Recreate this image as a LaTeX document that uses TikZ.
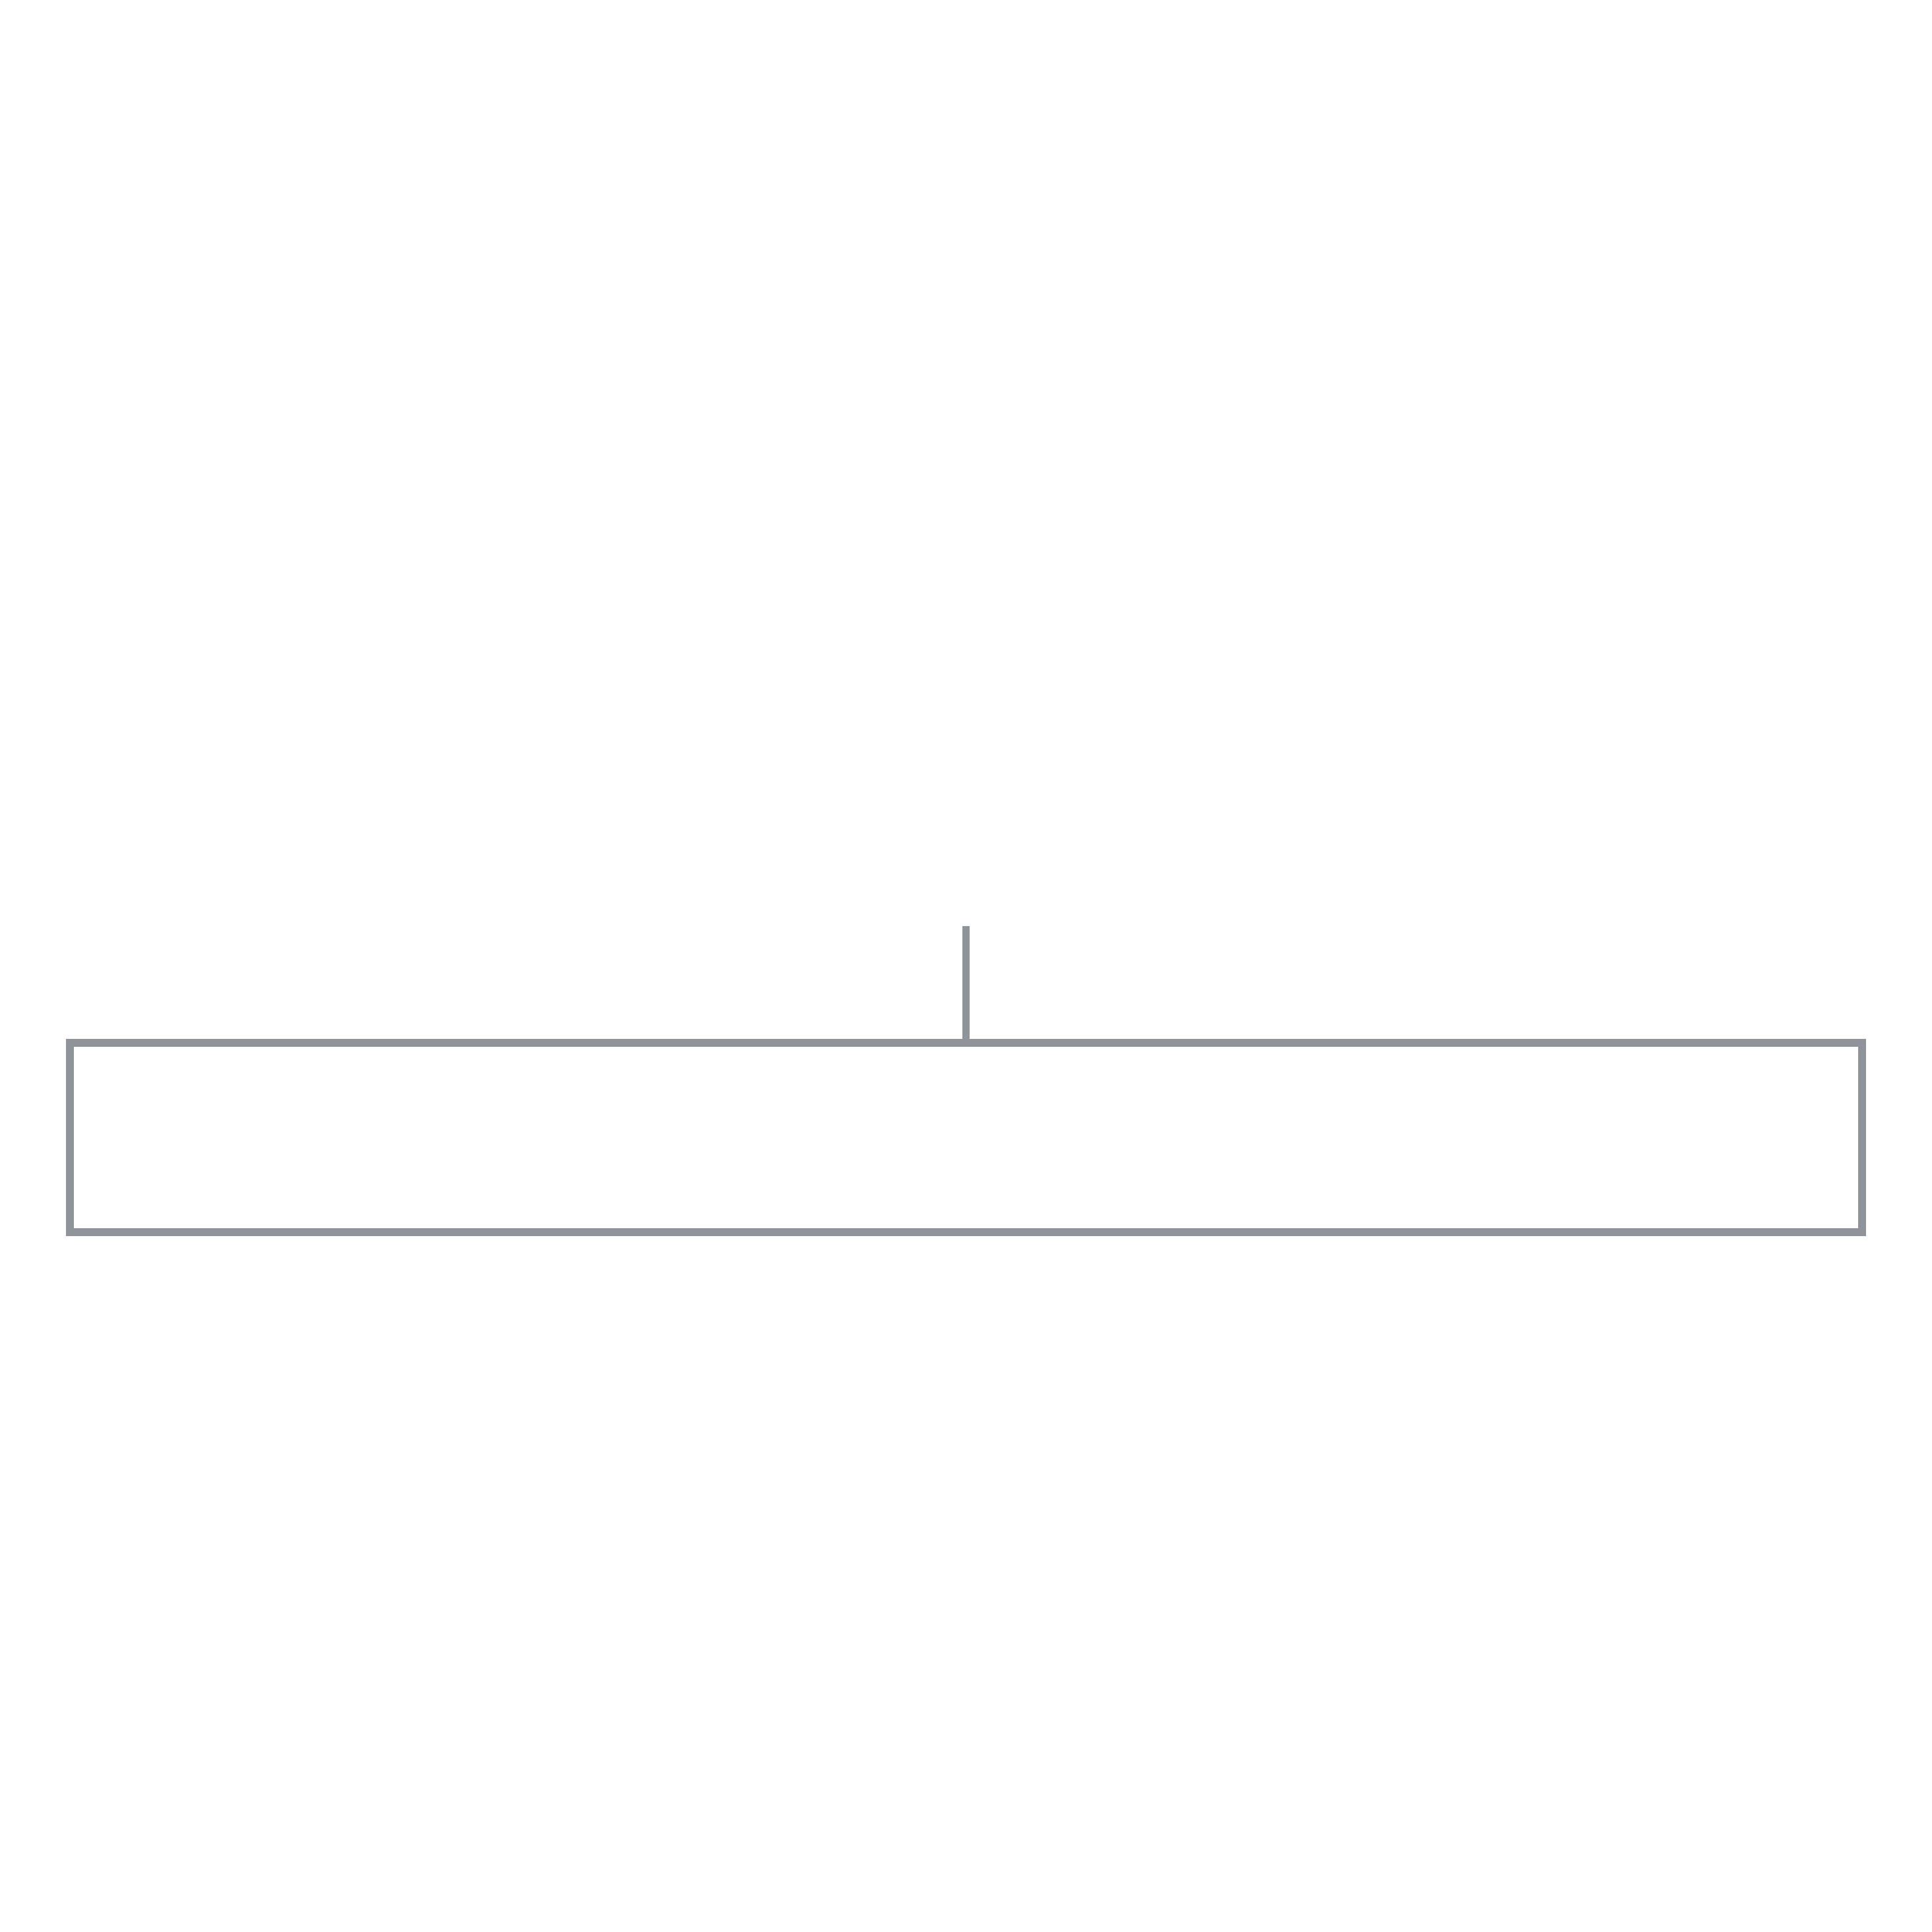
\documentclass[tikz,border=0pt]{standalone}
\usetikzlibrary{positioning}
\definecolor{framegray}{RGB}{143,148,155}
\tikzset{
    framebox/.style={draw=framegray, line width=1.15mm, rectangle, inner sep=0pt, outer sep=0pt, minimum width=27.17cm, minimum height=2.87cm},
    stem/.style={draw=framegray, line width=1.15mm}
}
\begin{document}
\begin{tikzpicture}
    \useasboundingbox (0,0) rectangle (29.29,29.29);
    \node[framebox] (box) at (14.645,12.045) {};
    \coordinate (top) at (14.645,15.25);
    \draw[stem] (top) -- (box.north);
    \end{tikzpicture}
\end{document}
